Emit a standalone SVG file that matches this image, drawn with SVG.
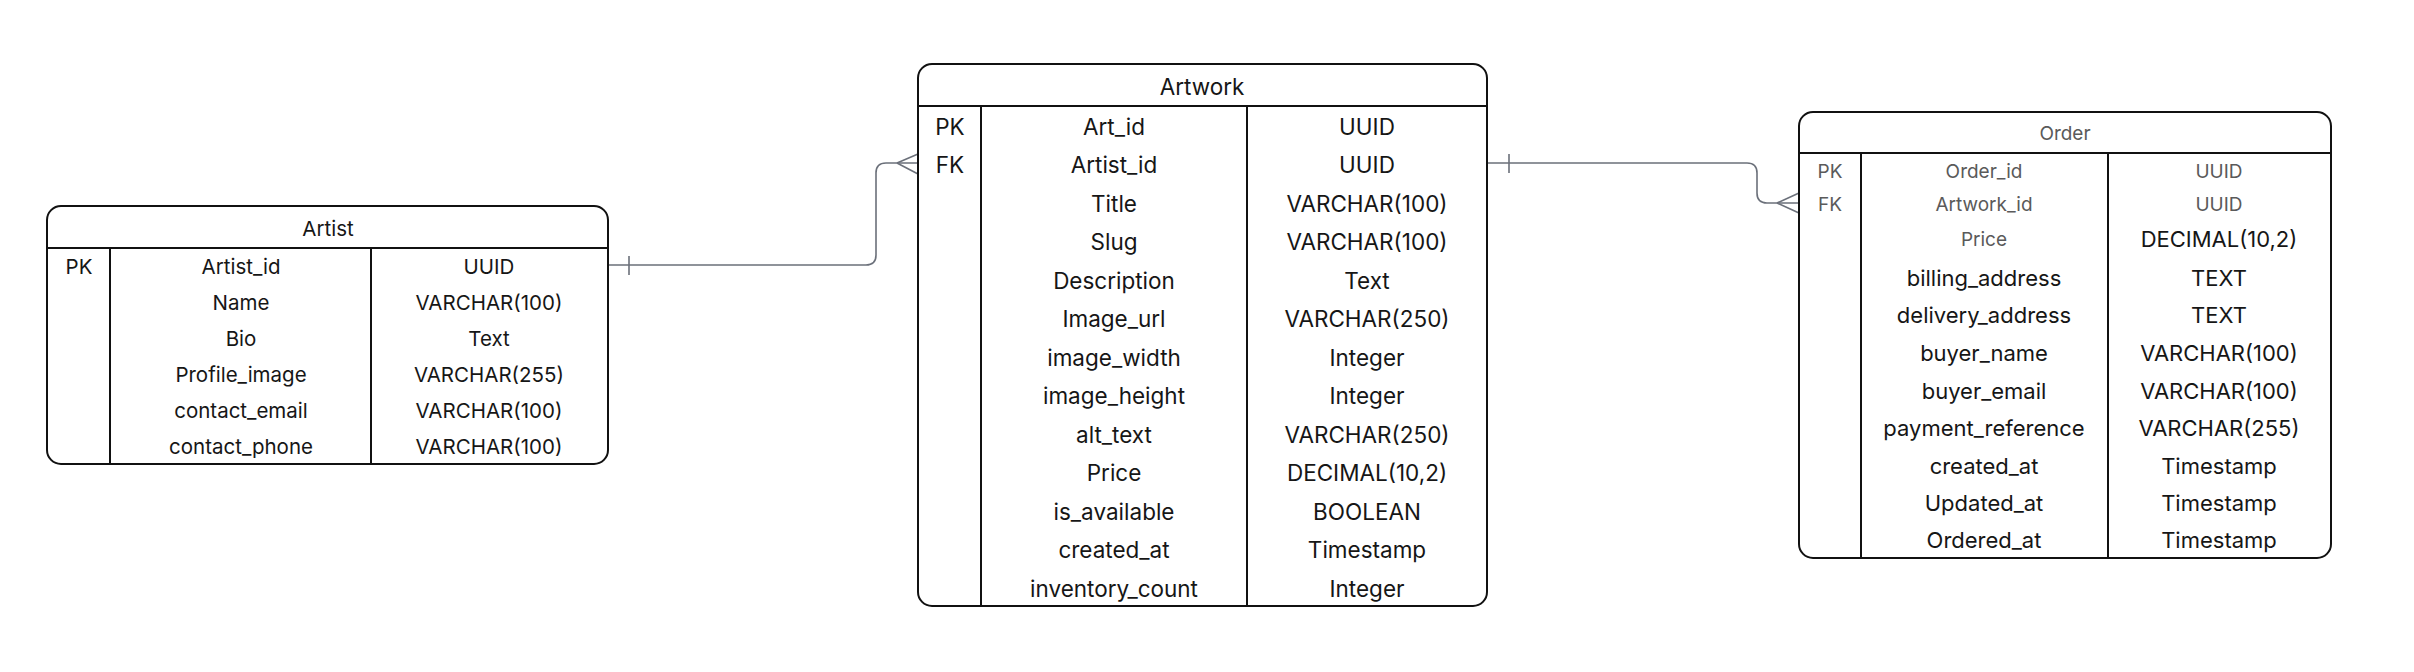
<svg xmlns="http://www.w3.org/2000/svg" width="2414" height="672" viewBox="0 0 2414 672">
<style>
.box{fill:#fff;stroke:#111;stroke-width:2}
.ln{stroke:#111;stroke-width:2;fill:none}
.con{stroke:#6b707a;stroke-width:1.6;fill:none}
text{font-family:Inter,"Liberation Sans",sans-serif;fill:#161616;text-anchor:middle;dominant-baseline:central}
.a{font-size:20.5px}
.w{font-size:22.5px}
.o{font-size:22px}
.g{font-size:19px;fill:#5a5a5a}
</style>
<rect width="2414" height="672" fill="#fff"/>
<g id="connectors">
<path class="con" d="M607,265 H866 Q876,265 876,255 V173 Q876,163 886,163 H918"/>
<path class="con" d="M629,256 V275 M897,163 L918,154 M897,163 L918,174"/>
<path class="con" d="M1487,163 H1747 Q1757,163 1757,173 V193 Q1757,203 1767,203 H1799"/>
<path class="con" d="M1509,154 V173 M1777,203 L1799,193 M1777,203 L1799,213"/>
</g>
<g id="artist">
<rect class="box" x="47" y="206" width="561" height="258" rx="14"/>
<path class="ln" d="M47,248 H608 M110,248 V464 M371,248 V464"/>
<text class="a" x="328" y="228">Artist</text>
<text class="a" x="79" y="266">PK</text>
<text class="a" x="241" y="266">Artist_id</text><text class="a" x="489" y="266">UUID</text>
<text class="a" x="241" y="302">Name</text><text class="a" x="489" y="302">VARCHAR(100)</text>
<text class="a" x="241" y="338">Bio</text><text class="a" x="489" y="338">Text</text>
<text class="a" x="241" y="374">Profile_image</text><text class="a" x="489" y="374">VARCHAR(255)</text>
<text class="a" x="241" y="410">contact_email</text><text class="a" x="489" y="410">VARCHAR(100)</text>
<text class="a" x="241" y="446">contact_phone</text><text class="a" x="489" y="446">VARCHAR(100)</text>
</g>
<g id="artwork">
<rect class="box" x="918" y="64" width="569" height="542" rx="14"/>
<path class="ln" d="M918,106 H1487 M981,106 V606 M1247,106 V606"/>
<text class="w" x="1202" y="86">Artwork</text>
<text class="w" x="950" y="126">PK</text>
<text class="w" x="950" y="164.5">FK</text>
<text class="w" x="1114" y="126">Art_id</text><text class="w" x="1367" y="126">UUID</text>
<text class="w" x="1114" y="164.5">Artist_id</text><text class="w" x="1367" y="164.5">UUID</text>
<text class="w" x="1114" y="203">Title</text><text class="w" x="1367" y="203">VARCHAR(100)</text>
<text class="w" x="1114" y="241.5">Slug</text><text class="w" x="1367" y="241.5">VARCHAR(100)</text>
<text class="w" x="1114" y="280">Description</text><text class="w" x="1367" y="280">Text</text>
<text class="w" x="1114" y="318.5">Image_url</text><text class="w" x="1367" y="318.5">VARCHAR(250)</text>
<text class="w" x="1114" y="357">image_width</text><text class="w" x="1367" y="357">Integer</text>
<text class="w" x="1114" y="395.5">image_height</text><text class="w" x="1367" y="395.5">Integer</text>
<text class="w" x="1114" y="434">alt_text</text><text class="w" x="1367" y="434">VARCHAR(250)</text>
<text class="w" x="1114" y="472.5">Price</text><text class="w" x="1367" y="472.5">DECIMAL(10,2)</text>
<text class="w" x="1114" y="511">is_available</text><text class="w" x="1367" y="511">BOOLEAN</text>
<text class="w" x="1114" y="549.5">created_at</text><text class="w" x="1367" y="549.5">Timestamp</text>
<text class="w" x="1114" y="588">inventory_count</text><text class="w" x="1367" y="588">Integer</text>
</g>
<g id="order">
<rect class="box" x="1799" y="112" width="532" height="446" rx="14"/>
<path class="ln" d="M1799,153 H2331 M1861,153 V558 M2108,153 V558"/>
<text class="g" x="2065" y="133">Order</text>
<text class="g" x="1830" y="171">PK</text>
<text class="g" x="1830" y="204">FK</text>
<text class="g" x="1984" y="171">Order_id</text><text class="g" x="2219" y="171">UUID</text>
<text class="g" x="1984" y="204">Artwork_id</text><text class="g" x="2219" y="204">UUID</text>
<text class="g" x="1984" y="239">Price</text><text class="o" x="2219" y="239">DECIMAL(10,2)</text>
<text class="o" x="1984" y="278">billing_address</text><text class="o" x="2219" y="278">TEXT</text>
<text class="o" x="1984" y="315">delivery_address</text><text class="o" x="2219" y="315">TEXT</text>
<text class="o" x="1984" y="353">buyer_name</text><text class="o" x="2219" y="353">VARCHAR(100)</text>
<text class="o" x="1984" y="391">buyer_email</text><text class="o" x="2219" y="391">VARCHAR(100)</text>
<text class="o" x="1984" y="428">payment_reference</text><text class="o" x="2219" y="428">VARCHAR(255)</text>
<text class="o" x="1984" y="466">created_at</text><text class="o" x="2219" y="466">Timestamp</text>
<text class="o" x="1984" y="503">Updated_at</text><text class="o" x="2219" y="503">Timestamp</text>
<text class="o" x="1984" y="540">Ordered_at</text><text class="o" x="2219" y="540">Timestamp</text>
</g>
</svg>
